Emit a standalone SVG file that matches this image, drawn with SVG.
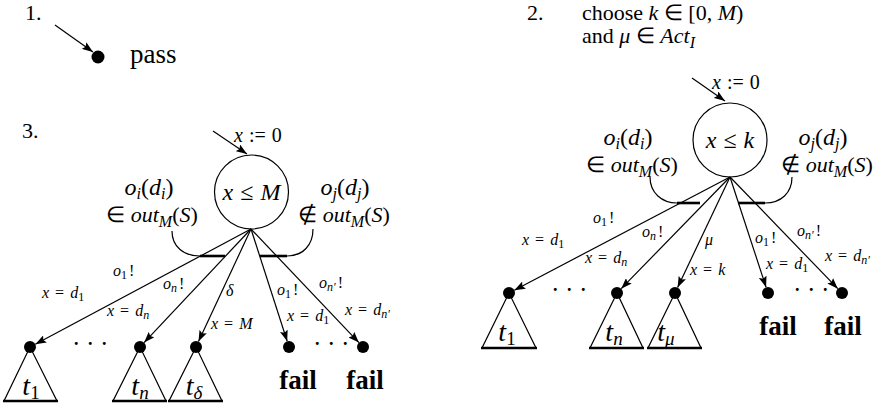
<svg xmlns="http://www.w3.org/2000/svg" width="885" height="408" viewBox="0 0 885 408">
<style>
text{font-family:'Liberation Serif',serif;fill:#000}
.b{font-size:22px}
.c{font-size:24px}
.i{font-style:italic}
.s{font-size:16px}
.ss{font-size:12px}
.bf{font-size:27px;font-weight:bold}
.tl{font-size:28px}
.dd{font-size:18px;letter-spacing:2.5px;font-weight:bold}
.e{stroke:#000;stroke-width:1.2;fill:none}
.th{stroke:#000;stroke-width:2.6;fill:none}
.dot{fill:#000}
.tri{stroke:#000;stroke-width:1.2;fill:none;stroke-linejoin:miter}
</style>
<defs>
<marker id="ah" markerWidth="11" markerHeight="8" refX="11" refY="4" orient="auto" markerUnits="userSpaceOnUse">
<path d="M0,0 L11,4 L0,8 L2,4 z" fill="#000"/>
</marker>
</defs>

<!-- Part 1 -->
<g id="label1"><text class="b" x="25" y="20">1.</text></g>
<g id="pass-node">
<circle class="dot" cx="98" cy="57" r="6.5"/>
<text x="130" y="63" font-size="27">pass</text>
</g>

<!-- Part 2 -->
<g id="label2">
<text class="b" x="527" y="20">2.</text>
<text class="b" x="582" y="20">choose <tspan class="i">k</tspan> ∈ [0, <tspan class="i">M</tspan>)</text>
<text class="b" x="582" y="43">and <tspan class="i">μ</tspan> ∈ <tspan class="i">Act</tspan><tspan class="i" font-size="16" dy="5">I</tspan></text>
</g>

<!-- Part 3 -->
<g id="label3"><text class="b" x="22" y="138">3.</text></g>

<g id="root3">
<circle class="e" cx="251.5" cy="192" r="37"/>
<text class="c" x="251.5" y="200" text-anchor="middle"><tspan class="i">x</tspan><tspan dx="7">≤</tspan><tspan class="i" dx="7">M</tspan></text>
<text x="234" y="142" font-size="20"><tspan class="i">x</tspan><tspan dx="6">:=</tspan><tspan dx="6">0</tspan></text>
</g>
<g id="cond3">
<text class="c" x="149" y="195" text-anchor="middle"><tspan class="i">o</tspan><tspan class="i" font-size="16" dy="4">i</tspan><tspan dy="-4">(</tspan><tspan class="i">d</tspan><tspan class="i" font-size="16" dy="4">i</tspan><tspan dy="-4">)</tspan></text>
<text class="b" x="152" y="222" text-anchor="middle">∈ <tspan class="i">out</tspan><tspan class="i" font-size="16" dy="5">M</tspan><tspan dy="-5">(</tspan><tspan class="i">S</tspan>)</text>
<text class="c" x="345" y="195" text-anchor="middle"><tspan class="i">o</tspan><tspan class="i" font-size="16" dy="4">j</tspan><tspan dy="-4">(</tspan><tspan class="i">d</tspan><tspan class="i" font-size="16" dy="4">j</tspan><tspan dy="-4">)</tspan></text>
<text class="b" x="344" y="222" text-anchor="middle">∉ <tspan class="i">out</tspan><tspan class="i" font-size="16" dy="5">M</tspan><tspan dy="-5">(</tspan><tspan class="i">S</tspan>)</text>
</g>

<g id="leaf3-t1">
<circle class="dot" cx="30" cy="347" r="6"/>
<polygon class="tri" points="30,347 4,401 57,401"/>
<text class="tl" x="31" y="395" text-anchor="middle"><tspan class="i">t</tspan><tspan font-size="19" dy="4">1</tspan></text>
</g>
<g id="leaf3-tn">
<circle class="dot" cx="140" cy="347" r="6"/>
<polygon class="tri" points="140,347 113,401 166,401"/>
<text class="tl" x="140" y="395" text-anchor="middle"><tspan class="i">t</tspan><tspan class="i" font-size="19" dy="4">n</tspan></text>
</g>
<g id="leaf3-td">
<circle class="dot" cx="196" cy="347" r="6"/>
<polygon class="tri" points="196,347 169,401 222,401"/>
<text class="tl" x="194" y="395" text-anchor="middle"><tspan class="i">t</tspan><tspan class="i" font-size="19" dy="4">δ</tspan></text>
</g>
<g id="leaf3-f1">
<circle class="dot" cx="289" cy="347" r="6"/>
<text class="bf" x="298" y="389" text-anchor="middle">fail</text>
</g>
<g id="leaf3-f2">
<circle class="dot" cx="363" cy="347" r="6"/>
<text class="bf" x="365" y="389" text-anchor="middle">fail</text>
</g>
<g id="dots3">
<text class="dd" x="74" y="345">. . .</text>
<text class="dd" x="315" y="345">. . .</text>
</g>

<!-- Right tree -->
<g id="root2">
<circle class="e" cx="730" cy="140" r="37"/>
<text class="c" x="730" y="148" text-anchor="middle"><tspan class="i">x</tspan><tspan dx="7">≤</tspan><tspan class="i" dx="7">k</tspan></text>
<text x="712" y="89" font-size="20"><tspan class="i">x</tspan><tspan dx="6">:=</tspan><tspan dx="6">0</tspan></text>
</g>
<g id="cond2">
<text class="c" x="628" y="145" text-anchor="middle"><tspan class="i">o</tspan><tspan class="i" font-size="16" dy="4">i</tspan><tspan dy="-4">(</tspan><tspan class="i">d</tspan><tspan class="i" font-size="16" dy="4">i</tspan><tspan dy="-4">)</tspan></text>
<text class="b" x="632" y="172" text-anchor="middle">∈ <tspan class="i">out</tspan><tspan class="i" font-size="16" dy="5">M</tspan><tspan dy="-5">(</tspan><tspan class="i">S</tspan>)</text>
<text class="c" x="823" y="145" text-anchor="middle"><tspan class="i">o</tspan><tspan class="i" font-size="16" dy="4">j</tspan><tspan dy="-4">(</tspan><tspan class="i">d</tspan><tspan class="i" font-size="16" dy="4">j</tspan><tspan dy="-4">)</tspan></text>
<text class="b" x="827" y="172" text-anchor="middle">∉ <tspan class="i">out</tspan><tspan class="i" font-size="16" dy="5">M</tspan><tspan dy="-5">(</tspan><tspan class="i">S</tspan>)</text>
</g>
<g id="leaf2-t1">
<circle class="dot" cx="509" cy="293" r="6"/>
<polygon class="tri" points="509,293 482,348 536,348"/>
<text class="tl" x="507" y="341" text-anchor="middle"><tspan class="i">t</tspan><tspan font-size="19" dy="4">1</tspan></text>
</g>
<g id="leaf2-tn">
<circle class="dot" cx="617" cy="293" r="6"/>
<polygon class="tri" points="617,293 590,348 643,348"/>
<text class="tl" x="614" y="341" text-anchor="middle"><tspan class="i">t</tspan><tspan class="i" font-size="19" dy="4">n</tspan></text>
</g>
<g id="leaf2-tmu">
<circle class="dot" cx="675" cy="293" r="6"/>
<polygon class="tri" points="675,293 648,348 701,348"/>
<text class="tl" x="666" y="341" text-anchor="middle"><tspan class="i">t</tspan><tspan class="i" font-size="19" dy="4">μ</tspan></text>
</g>
<g id="leaf2-f1">
<circle class="dot" cx="768" cy="293" r="6"/>
<text class="bf" x="778" y="335" text-anchor="middle">fail</text>
</g>
<g id="leaf2-f2">
<circle class="dot" cx="842" cy="293" r="6"/>
<text class="bf" x="843" y="335" text-anchor="middle">fail</text>
</g>
<g id="dots2">
<text class="dd" x="553" y="291">. . .</text>
<text class="dd" x="795" y="291">. . .</text>
</g>

<!-- Connectors -->
<g id="connectors">
<line class="e" x1="55" y1="25" x2="93" y2="52" marker-end="url(#ah)"/>
<line class="e" x1="213" y1="131" x2="247" y2="154" marker-end="url(#ah)"/>
<line class="e" x1="692" y1="78" x2="725" y2="101" marker-end="url(#ah)"/>

<line class="e" x1="251" y1="229" x2="35.3" y2="344.2" marker-end="url(#ah)"/>
<line class="e" x1="251" y1="229" x2="144.1" y2="342.6" marker-end="url(#ah)"/>
<line class="e" x1="251" y1="229" x2="198.5" y2="341.6" marker-end="url(#ah)"/>
<line class="e" x1="251" y1="229" x2="287.2" y2="341.3" marker-end="url(#ah)"/>
<line class="e" x1="251" y1="229" x2="358.9" y2="342.6" marker-end="url(#ah)"/>
<line class="th" x1="200" y1="256" x2="225" y2="256"/>
<line class="th" x1="260" y1="256" x2="287" y2="256"/>
<path class="e" d="M172,231 C172,247 184,256 200,256"/>
<path class="e" d="M287,256 C303,256 313,245 313,229"/>

<line class="e" x1="730" y1="177" x2="514.3" y2="290.2" marker-end="url(#ah)"/>
<line class="e" x1="730" y1="177" x2="621.2" y2="288.7" marker-end="url(#ah)"/>
<line class="e" x1="730" y1="177" x2="677.6" y2="287.6" marker-end="url(#ah)"/>
<line class="e" x1="730" y1="177" x2="766.1" y2="287.3" marker-end="url(#ah)"/>
<line class="e" x1="730" y1="177" x2="837.8" y2="288.7" marker-end="url(#ah)"/>
<line class="th" x1="677" y1="203" x2="700" y2="203"/>
<line class="th" x1="738" y1="203" x2="765" y2="203"/>
<path class="e" d="M650,177 C650,193 662,203 677,203"/>
<path class="e" d="M765,203 C781,203 792,193 792,177"/>

<line class="th" x1="3" y1="401" x2="58" y2="401"/>
<line class="th" x1="112" y1="401" x2="167" y2="401"/>
<line class="th" x1="168" y1="401" x2="223" y2="401"/>
<line class="th" x1="481" y1="348" x2="537" y2="348"/>
<line class="th" x1="589" y1="348" x2="644" y2="348"/>
<line class="th" x1="647" y1="348" x2="702" y2="348"/>
</g>

<!-- Edge labels -->
<g id="edge-labels">
<text class="s" x="113" y="276"><tspan class="i">o</tspan><tspan class="ss" dy="3">1</tspan><tspan dy="-3" dx="2">!</tspan></text>
<text class="s" x="42" y="298"><tspan class="i">x</tspan><tspan dx="6">=</tspan><tspan class="i" dx="6">d</tspan><tspan class="ss" dy="3">1</tspan></text>
<text class="s" x="163" y="289"><tspan class="i">o</tspan><tspan class="ss i" dy="3">n</tspan><tspan dy="-3" dx="2">!</tspan></text>
<text class="s" x="107" y="316"><tspan class="i">x</tspan><tspan dx="6">=</tspan><tspan class="i" dx="6">d</tspan><tspan class="ss i" dy="3">n</tspan></text>
<text class="s i" x="226" y="296">δ</text>
<text class="s" x="211" y="329"><tspan class="i">x</tspan><tspan dx="6">=</tspan><tspan class="i" dx="6">M</tspan></text>
<text class="s" x="277" y="295"><tspan class="i">o</tspan><tspan class="ss" dy="3">1</tspan><tspan dy="-3" dx="2">!</tspan></text>
<text class="s" x="287" y="321"><tspan class="i">x</tspan><tspan dx="6">=</tspan><tspan class="i" dx="6">d</tspan><tspan class="ss" dy="3">1</tspan></text>
<text class="s" x="319" y="288"><tspan class="i">o</tspan><tspan class="ss i" dy="3">n′</tspan><tspan dy="-3" dx="2">!</tspan></text>
<text class="s" x="345" y="315"><tspan class="i">x</tspan><tspan dx="6">=</tspan><tspan class="i" dx="6">d</tspan><tspan class="ss i" dy="3">n′</tspan></text>

<text class="s" x="593" y="223"><tspan class="i">o</tspan><tspan class="ss" dy="3">1</tspan><tspan dy="-3" dx="2">!</tspan></text>
<text class="s" x="522" y="245"><tspan class="i">x</tspan><tspan dx="6">=</tspan><tspan class="i" dx="6">d</tspan><tspan class="ss" dy="3">1</tspan></text>
<text class="s" x="642" y="237"><tspan class="i">o</tspan><tspan class="ss i" dy="3">n</tspan><tspan dy="-3" dx="2">!</tspan></text>
<text class="s" x="585" y="263"><tspan class="i">x</tspan><tspan dx="6">=</tspan><tspan class="i" dx="6">d</tspan><tspan class="ss i" dy="3">n</tspan></text>
<text class="s i" x="705" y="245">μ</text>
<text class="s" x="690" y="275"><tspan class="i">x</tspan><tspan dx="6">=</tspan><tspan class="i" dx="6">k</tspan></text>
<text class="s" x="755" y="243"><tspan class="i">o</tspan><tspan class="ss" dy="3">1</tspan><tspan dy="-3" dx="2">!</tspan></text>
<text class="s" x="766" y="269"><tspan class="i">x</tspan><tspan dx="6">=</tspan><tspan class="i" dx="6">d</tspan><tspan class="ss" dy="3">1</tspan></text>
<text class="s" x="797" y="236"><tspan class="i">o</tspan><tspan class="ss i" dy="3">n′</tspan><tspan dy="-3" dx="2">!</tspan></text>
<text class="s" x="825" y="261"><tspan class="i">x</tspan><tspan dx="6">=</tspan><tspan class="i" dx="6">d</tspan><tspan class="ss i" dy="3">n′</tspan></text>
</g>
</svg>
